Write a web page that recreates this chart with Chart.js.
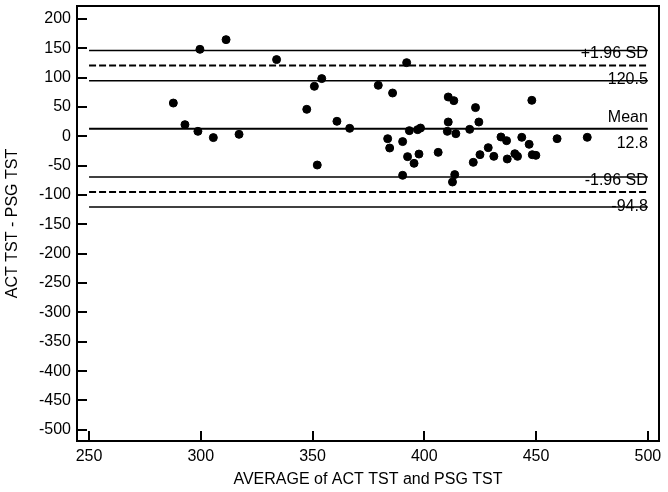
<!DOCTYPE html>
<html>
<head>
<meta charset="utf-8">
<script src="https://cdn.jsdelivr.net/npm/chart.js@4.4.1/dist/chart.umd.min.js"></script>
<style>
  html, body { margin: 0; padding: 0; background: #fff; }
  #wrap { width: 668px; height: 492px; }
</style>
</head>
<body>
<div id="wrap"><canvas id="chart" width="668" height="492"></canvas></div>
<script>
// Bland-Altman: mean of ACT and PSG total sleep time vs their difference
const avgTST = [
  287.7, 292.9, 298.7, 305.6, 317.1, 299.6, 311.3, 333.9,
  392.1, 354.1, 350.8, 379.4, 385.8, 347.4, 360.9, 366.6, 383.6, 384.5,
  390.3, 393.3, 397.0, 398.3, 392.5, 397.6, 395.4, 352.1, 390.3,
  410.7, 413.2, 422.9, 448.1, 410.7, 424.4, 410.3, 414.1, 420.3, 406.2,
  413.6, 412.6, 421.9, 424.9, 428.6, 431.1, 434.3, 436.8, 437.1, 440.5,
  441.7, 443.6, 446.9, 448.3, 449.9, 459.4, 472.9
];
const diffTST = [
  56.7, 19.9, 8.5, -2.2, 3.4, 148.2, 164.7, 130.7,
  125.5, 98.3, 85.2, 86.9, 73.8, 46.0, 25.6, 13.6, -4.0, -19.9,
  -9.0, 9.7, 11.4, 14.1, -34.6, -30.2, -46.0, -48.9, -66.4,
  67.0, 60.8, 48.9, 61.3, 24.4, 24.4, 8.5, 4.5, 11.9, -27.3,
  -65.2, -77.8, -44.3, -31.2, -19.3, -34.1, -1.1, -7.4, -38.6, -29.6,
  -34.1, -1.7, -13.6, -31.3, -32.4, -4.0, -1.7
];

const xTicks = [250, 300, 350, 400, 450, 500];
const yTicks = [200, 150, 100, 50, 0, -50, -100, -150, -200, -250, -300, -350, -400, -450, -500];

// agreement lines
const meanDiff = 12.8;
const upperLoA = 120.5;
const lowerLoA = -94.8;
const upperCI = [146.2, 94.8];
const lowerCI = [-69.1, -120.5];
const lineSpan = [250, 500];

const FONT = "'Liberation Sans', Arial, Helvetica, sans-serif";

function hline(y, width, dash) {
  return {
    data: lineSpan.map(x => ({ x, y })),
    showLine: true,
    borderColor: "#000",
    borderWidth: width,
    borderDash: dash || [],
    pointRadius: 0,
    fill: false,
  };
}

const points = avgTST.map((x, i) => ({ x, y: diffTST[i] }));

// frame, inward tick marks and the labels of the agreement lines
const framePlugin = {
  id: "frame",
  afterDraw(chart) {
    const { ctx, chartArea: a } = chart;
    const xs = chart.scales.x;
    const ys = chart.scales.y;
    ctx.save();
    ctx.strokeStyle = "#000";
    ctx.lineWidth = 2;
    ctx.strokeRect(a.left, a.top, a.right - a.left, a.bottom - a.top);

    ctx.beginPath();
    yTicks.forEach(v => {
      const py = Math.round(ys.getPixelForValue(v));
      ctx.moveTo(a.left, py);
      ctx.lineTo(a.left + 10, py);
    });
    xTicks.forEach(v => {
      const px = Math.round(xs.getPixelForValue(v));
      ctx.moveTo(px, a.bottom);
      ctx.lineTo(px, a.bottom - 10);
    });
    ctx.stroke();

    ctx.fillStyle = "#000";
    ctx.font = "16px " + FONT;
    ctx.textAlign = "right";
    ctx.textBaseline = "middle";
    const rx = xs.getPixelForValue(lineSpan[1]);
    [["+1.96 SD", upperLoA], ["Mean", meanDiff], ["-1.96 SD", lowerLoA]].forEach(([txt, v]) => {
      const py = ys.getPixelForValue(v);
      ctx.fillText(txt, rx, py - 11.5);
      ctx.fillText(v.toFixed(1), rx, py + 14.5);
    });
    ctx.restore();
  },
};

new Chart(document.getElementById("chart"), {
  type: "scatter",
  data: {
    datasets: [
      {
        data: points,
        backgroundColor: "#000",
        borderColor: "#000",
        pointRadius: 4,
        pointHoverRadius: 4,
      },
      hline(meanDiff, 2),
      hline(upperLoA, 2, [7, 3]),
      hline(lowerLoA, 2, [7, 3]),
      hline(upperCI[0], 1.5),
      hline(upperCI[1], 1.5),
      hline(lowerCI[0], 1.5),
      hline(lowerCI[1], 1.5),
    ],
  },
  options: {
    responsive: false,
    animation: false,
    events: [],
    layout: { padding: { top: 6, right: 9, left: 0, bottom: 0 } },
    plugins: { legend: { display: false }, tooltip: { enabled: false } },
    scales: {
      x: {
        type: "linear",
        min: 244.6,
        max: 505,
        afterBuildTicks: s => { s.ticks = xTicks.map(value => ({ value })); },
        afterFit: s => { s.height = 51; s.paddingLeft = 0; s.paddingRight = 0; },
        grid: { display: false, drawTicks: false },
        border: { display: false },
        ticks: { color: "#000", padding: 6, font: { family: FONT, size: 16 } },
        title: {
          display: true,
          text: "AVERAGE of ACT TST and PSG TST",
          color: "#000",
          padding: { top: 0, bottom: 3 },
          font: { family: FONT, size: 16 },
        },
      },
      y: {
        type: "linear",
        min: -519,
        max: 222,
        afterBuildTicks: s => { s.ticks = yTicks.map(value => ({ value })); },
        afterFit: s => { s.width = 77; s.paddingTop = 0; s.paddingBottom = 0; },
        grid: { display: false, drawTicks: false },
        border: { display: false },
        ticks: { color: "#000", padding: 6, font: { family: FONT, size: 16 } },
        title: {
          display: true,
          text: "ACT TST - PSG TST",
          color: "#000",
          padding: { top: 3, bottom: 0 },
          font: { family: FONT, size: 16 },
        },
      },
    },
  },
  plugins: [framePlugin],
});
</script>
</body>
</html>
